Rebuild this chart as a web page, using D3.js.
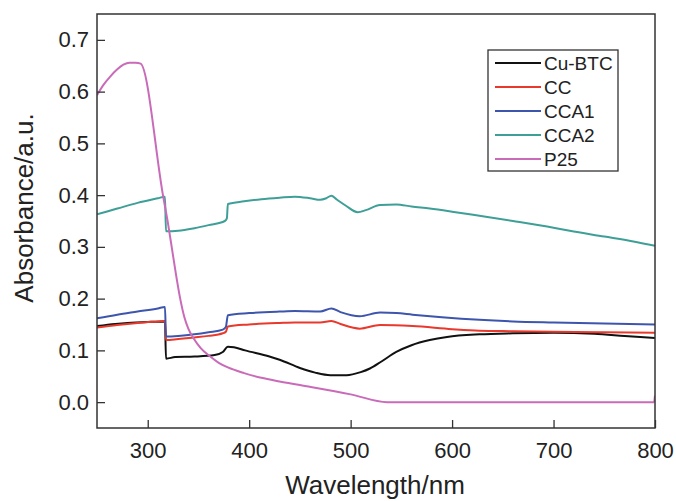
<!DOCTYPE html>
<html><head><meta charset="utf-8">
<script src="https://cdn.jsdelivr.net/npm/d3@7"></script>
<style>
html,body{margin:0;padding:0;background:#fff;}
text{font-family:"Liberation Sans",Arial,Helvetica,sans-serif;fill:#222;}
</style></head>
<body><svg id="chart" width="676" height="501"></svg>
<script>
// ---- data (wavelength nm, absorbance) ----
const seriesNames = ["Cu-BTC","CC","CCA1","CCA2","P25"];
const seriesColors = ["#111111","#e8392c","#3d55ad","#3e9f97","#c96bb9"];
const xTicks = [300,400,500,600,700,800];
const yTicks = [0.0,0.1,0.2,0.3,0.4,0.5,0.6,0.7];

const cuBTC = [[250,0.147],[268,0.151],[280,0.153],[300,0.155],[317,0.156],[318,0.084],[327,0.087],[346,0.088],[366,0.091],[374,0.097],[379,0.107],[385,0.106],[396,0.100],[420,0.088],[430,0.082],[450,0.066],[465,0.057],[480,0.052],[496,0.052],[510,0.058],[519,0.065],[530,0.078],[545,0.097],[560,0.110],[578,0.120],[595,0.126],[627,0.131],[660,0.133],[700,0.134],[740,0.132],[770,0.128],[800,0.124]];
const cc = [[250,0.144],[270,0.149],[290,0.153],[310,0.156],[317,0.157],[318,0.120],[330,0.122],[346,0.125],[360,0.128],[374,0.133],[377,0.136],[379,0.146],[400,0.150],[430,0.153],[445,0.154],[470,0.154],[481,0.157],[490,0.151],[509,0.142],[529,0.149],[561,0.147],[600,0.141],[627,0.138],[660,0.137],[700,0.136],[750,0.135],[800,0.134]];
const cca1 = [[250,0.162],[270,0.169],[290,0.175],[310,0.181],[317,0.184],[318,0.127],[330,0.128],[346,0.131],[360,0.135],[374,0.140],[377,0.145],[379,0.168],[400,0.172],[430,0.175],[445,0.176],[470,0.175],[481,0.181],[490,0.174],[509,0.166],[529,0.173],[545,0.172],[561,0.169],[590,0.164],[627,0.159],[660,0.156],[700,0.154],[750,0.152],[800,0.150]];
const cca2 = [[250,0.363],[270,0.374],[290,0.385],[310,0.394],[317,0.397],[318,0.330],[330,0.331],[346,0.336],[360,0.342],[376,0.350],[378,0.355],[379,0.383],[395,0.388],[412,0.392],[430,0.395],[445,0.397],[460,0.394],[470,0.391],[476,0.394],[481,0.399],[486,0.392],[495,0.380],[507,0.367],[515,0.371],[529,0.381],[545,0.382],[560,0.378],[578,0.374],[600,0.368],[627,0.360],[660,0.350],[700,0.337],[716,0.331],[750,0.320],[780,0.310],[800,0.302]];
const p25 = [[250,0.593],[256,0.612],[263,0.629],[270,0.643],[276,0.652],[282,0.656],[288,0.656],[293,0.654],[315,0.400],[320,0.345],[324,0.295],[328,0.245],[332,0.200],[336,0.165],[340,0.142],[345,0.124],[352,0.105],[361,0.089],[370,0.076],[379,0.067],[395,0.056],[412,0.047],[430,0.040],[450,0.033],[500,0.015],[536,0.0],[799,0.0],[800,0.013]];
const seriesData = [cuBTC, cc, cca1, cca2, p25];

// ---- layout ----
const W = 676, H = 501;
const m = {left:97, right:21, top:14, bottom:73};
const svg = d3.select("#chart");
const x = d3.scaleLinear().domain([250,800]).range([m.left, W-m.right]);
const y = d3.scaleLinear().domain([-0.05,0.75]).range([H-m.bottom, m.top]);

const clipId = "plotclip";
svg.append("clipPath").attr("id",clipId).append("rect")
  .attr("x",m.left).attr("y",m.top).attr("width",W-m.left-m.right).attr("height",H-m.top-m.bottom);

const line = d3.line().x(d=>x(d[0])).y(d=>y(d[1])).curve(d3.curveMonotoneX);
const g = svg.append("g").attr("clip-path",`url(#${clipId})`);
seriesData.forEach((s,i)=>{
  g.append("path").datum(s).attr("d",line).attr("fill","none")
   .attr("stroke",seriesColors[i]).attr("stroke-width",2).attr("stroke-linejoin","round");
});

// axes
const xAxis = d3.axisBottom(x).tickValues(xTicks).tickSizeInner(-8).tickSizeOuter(0).tickPadding(14).tickFormat(d3.format("d"));
const yAxis = d3.axisLeft(y).tickValues(yTicks).tickSizeInner(-8).tickSizeOuter(0).tickPadding(14).tickFormat(d3.format(".1f"));
const gx = svg.append("g").attr("transform",`translate(0,${H-m.bottom})`).call(xAxis);
const gy = svg.append("g").attr("transform",`translate(${m.left},0)`).call(yAxis);
[gx,gy].forEach(a=>{
  a.select(".domain").remove();
  a.selectAll(".tick line").attr("stroke","#333").attr("stroke-width",1.3);
  a.selectAll(".tick text").attr("font-size",22).attr("fill","#222")
    .style("font-family",'"Liberation Sans",Arial,sans-serif');
});
gy.selectAll(".tick text").attr("dx",6);

// frame
svg.append("rect").attr("x",m.left).attr("y",m.top)
  .attr("width",W-m.left-m.right).attr("height",H-m.top-m.bottom)
  .attr("fill","none").attr("stroke","#333").attr("stroke-width",1.5);

// titles
svg.append("text").attr("x",(m.left+W-m.right)/2 - 1).attr("y",494).attr("text-anchor","middle")
  .attr("font-size",26).text("Wavelength/nm");
svg.append("text").attr("transform",`translate(33,${208}) rotate(-90)`).attr("text-anchor","middle")
  .attr("font-size",26).text("Absorbance/a.u.");

// legend
const lg = svg.append("g");
lg.append("rect").attr("x",488).attr("y",50).attr("width",130).attr("height",121)
  .attr("fill","#fff").attr("stroke","#333").attr("stroke-width",1.3);
seriesNames.forEach((n,i)=>{
  const cy = 63 + i*24;
  lg.append("line").attr("x1",495).attr("x2",541).attr("y1",cy).attr("y2",cy)
    .attr("stroke",seriesColors[i]).attr("stroke-width",2);
  lg.append("text").attr("x",544).attr("y",cy).attr("dy","0.36em").attr("font-size",19).text(n);
});
</script></body></html>
